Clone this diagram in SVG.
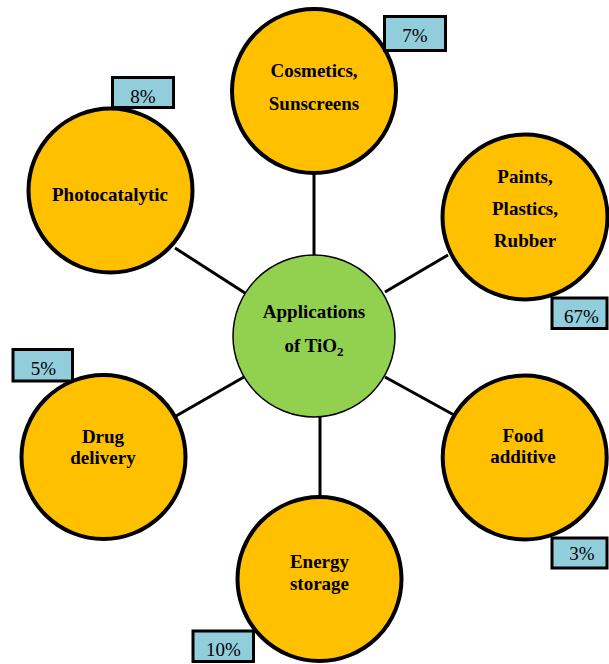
<svg xmlns="http://www.w3.org/2000/svg" width="609" height="664" viewBox="0 0 609 664">
<style>
.node{fill:#FFC000;stroke:#000;stroke-width:4}
.hub{fill:#92D050;stroke:#000;stroke-width:1.5}
.lbl{font-family:"Liberation Serif","Times New Roman",serif;font-weight:bold;font-size:19px;fill:#000;text-anchor:middle}
.pct{fill:#92CDDC;stroke:#000;stroke-width:3}
.pt{font-family:"Liberation Serif","Times New Roman",serif;font-size:19px;fill:#000;text-anchor:middle}
.con line{stroke:#000;stroke-width:3}
</style>
<rect width="609" height="664" fill="#fff"/>
<g id="connectors" class="con">
<line x1="314" y1="172" x2="314" y2="256"/>
<line x1="175" y1="248" x2="245" y2="293"/>
<line x1="448" y1="255" x2="385" y2="292"/>
<line x1="176" y1="416" x2="244" y2="377"/>
<line x1="454" y1="415" x2="385" y2="377"/>
<line x1="320" y1="417" x2="320" y2="497"/>
</g>
<g id="hub">
<circle class="hub" cx="314" cy="336" r="81"/>
<text class="lbl" x="314" y="318">Applications</text>
<text class="lbl" x="314" y="352">of TiO<tspan font-size="13" dy="4">2</tspan></text>
</g>
<g id="cosmetics">
<circle class="node" cx="314" cy="91" r="82"/>
<text class="lbl" x="314" y="77">Cosmetics,</text>
<text class="lbl" x="314" y="110">Sunscreens</text>
<rect class="pct" x="384.5" y="16.5" width="61" height="34"/>
<text class="pt" x="415" y="41.5">7%</text>
</g>
<g id="photocatalytic">
<circle class="node" cx="110.5" cy="190.5" r="82"/>
<text class="lbl" x="110" y="201">Photocatalytic</text>
<rect class="pct" x="112.5" y="77.5" width="61" height="30"/>
<text class="pt" x="143" y="102.5">8%</text>
</g>
<g id="paints">
<circle class="node" cx="525" cy="217" r="82.5"/>
<text class="lbl" x="525" y="183">Paints,</text>
<text class="lbl" x="525" y="215">Plastics,</text>
<text class="lbl" x="525" y="247">Rubber</text>
<rect class="pct" x="552" y="298" width="55" height="30.5"/>
<text class="pt" x="581.5" y="322.5">67%</text>
</g>
<g id="drug">
<circle class="node" cx="103.5" cy="457" r="82"/>
<text class="lbl" x="103" y="442.5">Drug</text>
<text class="lbl" x="103" y="463.5">delivery</text>
<rect class="pct" x="13" y="349.5" width="59.5" height="31.5"/>
<text class="pt" x="43.5" y="374.5">5%</text>
</g>
<g id="food">
<circle class="node" cx="524.7" cy="457.5" r="82"/>
<text class="lbl" x="523" y="442">Food</text>
<text class="lbl" x="523" y="463">additive</text>
<rect class="pct" x="552" y="538" width="55" height="30"/>
<text class="pt" x="582" y="560">3%</text>
</g>
<g id="energy">
<circle class="node" cx="319.5" cy="579" r="82"/>
<text class="lbl" x="319.5" y="568">Energy</text>
<text class="lbl" x="319.5" y="590">storage</text>
<rect class="pct" x="193" y="631" width="60.5" height="30.5"/>
<text class="pt" x="223.5" y="656">10%</text>
</g>
</svg>
